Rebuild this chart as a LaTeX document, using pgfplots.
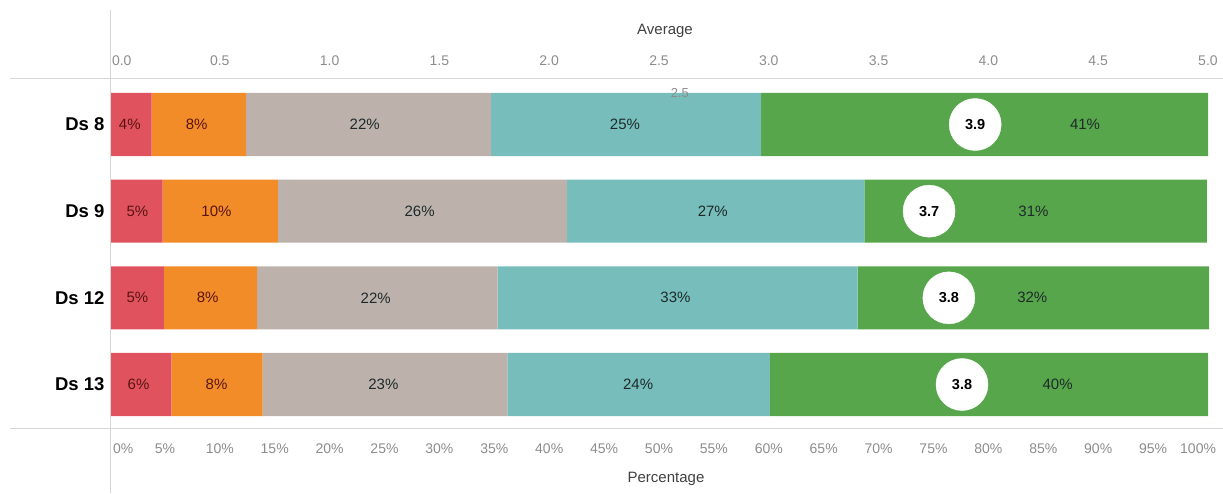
\documentclass[border=0pt]{standalone}
\usepackage{fontspec}
\setmainfont{Liberation Sans}
\usepackage{pgfplots}
\pgfplotsset{compat=1.18}
\definecolor{cRed}{HTML}{E0535E}
\definecolor{cOrange}{HTML}{F28C28}
\definecolor{cGray}{HTML}{BDB1AC}
\definecolor{cTeal}{HTML}{77BDBC}
\definecolor{cGreen}{HTML}{58A64C}
\definecolor{cLine}{HTML}{D6D6D6}
\definecolor{cTick}{HTML}{8C8C8C}
\definecolor{cDarkRed}{HTML}{5A1410}
\definecolor{cDark}{HTML}{1E2A2A}
\begin{document}
\begin{tikzpicture}
\useasboundingbox (0,0) rectangle (1223pt,493pt);
\pgfplotsset{
  base/.style={at={(110pt,65pt)}, anchor=south west, scale only axis,
    width=1098pt, height=349pt, ymin=-0.525, ymax=3.502, y dir=reverse,
    clip=false, axis line style={draw=none}, tick style={draw=none},
    /pgf/number format/assume math mode=true}
}
% bars with percentage axis
\begin{axis}[base, xmin=0, xmax=100, xbar stacked, bar width=63pt,
  xtick={0,5,...,100},
  xticklabels={\rlap{\hspace{3pt}0\%},5\%,10\%,15\%,20\%,25\%,30\%,35\%,40\%,45\%,50\%,55\%,60\%,65\%,70\%,75\%,80\%,85\%,90\%,95\%,\llap{100\%\hspace{-8pt}}},
  x tick label style={anchor=center, yshift=-21pt, text=cTick, font=\fontsize{14}{16}\selectfont},
  xlabel={Percentage},
  xlabel style={at={(axis description cs:0.5,0)}, anchor=center, yshift=-51pt, xshift=7pt, text=black!75, font=\fontsize{15}{17}\selectfont},
  ytick={0,1,2,3}, yticklabels={Ds 8, Ds 9, Ds 12, Ds 13},
  y tick label style={anchor=east, xshift=-2pt, font=\bfseries\fontsize{18.5}{20}\selectfont},
]
\addplot[fill=cRed, draw=none] coordinates {(3.8,0) (4.8,1) (4.9,2) (5.6,3)};
\addplot[fill=cOrange, draw=none] coordinates {(8.6,0) (10.5,1) (8.5,2) (8.3,3)};
\addplot[fill=cGray, draw=none] coordinates {(22.3,0) (26.3,1) (21.9,2) (22.3,3)};
\addplot[fill=cTeal, draw=none] coordinates {(24.6,0) (27.1,1) (32.8,2) (23.9,3)};
\addplot[fill=cGreen, draw=none] coordinates {(40.7,0) (31.2,1) (32.0,2) (39.9,3)};
\end{axis}
% segment labels
\begin{axis}[base, xmin=0, xmax=100, hide axis]
\addplot[draw=none, mark=none, nodes near coords, point meta=explicit symbolic,
  nodes near coords style={anchor=center, text=cDarkRed, font=\fontsize{15}{17}\selectfont}]
  coordinates {(1.8,0)[4\%] (7.9,0)[8\%] (2.5,1)[5\%] (9.7,1)[10\%]
               (2.5,2)[5\%] (8.9,2)[8\%] (2.6,3)[6\%] (9.7,3)[8\%]};
\addplot[draw=none, mark=none, nodes near coords, point meta=explicit symbolic,
  nodes near coords style={anchor=center, text=cDark, font=\fontsize{15}{17}\selectfont}]
  coordinates {(23.2,0)[22\%] (46.9,0)[25\%] (88.8,0)[41\%]
               (28.2,1)[26\%] (54.9,1)[27\%] (84.1,1)[31\%]
               (24.2,2)[22\%] (51.5,2)[33\%] (84.0,2)[32\%]
               (24.9,3)[23\%] (48.1,3)[24\%] (86.3,3)[40\%]};
\node[text=black!45, font=\fontsize{13}{15}\selectfont, anchor=center] at (axis cs:51.9,-0.36) {2.5};
\end{axis}
% averages with top axis
\begin{axis}[base, xmin=0, xmax=5, ytick=\empty,
  xticklabel pos=right,
  xtick={0,0.5,...,5},
  xticklabels={\rlap{\hspace{2pt}0.0},0.5,1.0,1.5,2.0,2.5,3.0,3.5,4.0,4.5,5.0},
  x tick label style={anchor=center, yshift=18pt, text=cTick, font=\fontsize{14}{16}\selectfont},
  xlabel={Average},
  xlabel style={at={(axis description cs:0.5,1)}, anchor=center, yshift=48pt, xshift=6pt, text=black!75, font=\fontsize{15}{17}\selectfont},
]
\addplot[only marks, draw=white, fill=white, mark=*, mark size=26pt,
  mark options={fill=white, draw=white, solid},
  nodes near coords, point meta=explicit symbolic,
  nodes near coords style={anchor=center, text=black, font=\bfseries\fontsize{14.5}{16}\selectfont}]
  coordinates {(3.94,0)[3.9] (3.73,1)[3.7] (3.82,2)[3.8] (3.88,3)[3.8]};
\end{axis}
\draw[cLine, line width=1pt] (10pt,414pt) -- (1223pt,414pt);
\draw[cLine, line width=1pt] (10pt,65pt) -- (1223pt,65pt);
\draw[cLine, line width=1pt] (110pt,0pt) -- (110pt,483pt);
\end{tikzpicture}
\end{document}
